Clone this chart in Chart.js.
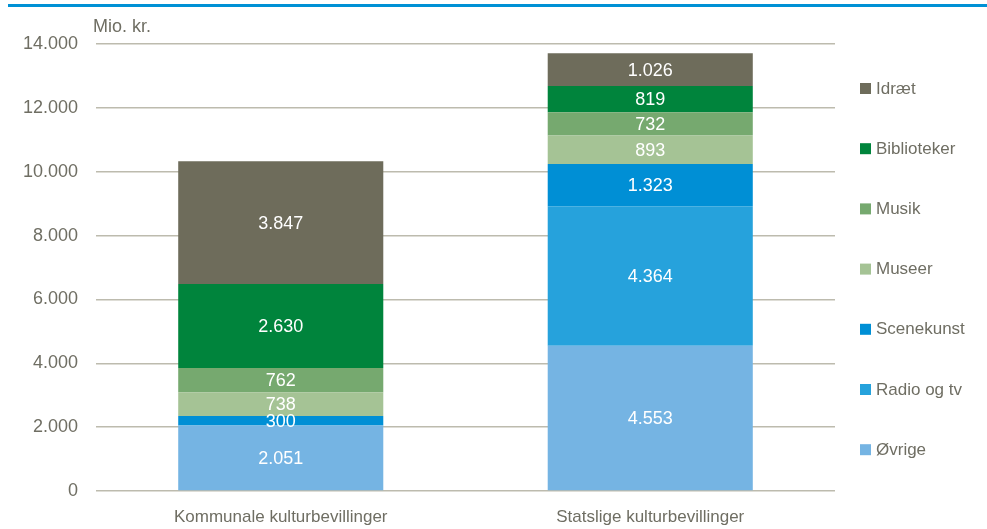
<!DOCTYPE html>
<html>
<head>
<meta charset="utf-8">
<script src="https://cdn.jsdelivr.net/npm/chart.js@4"></script>
<style>
  html, body { margin: 0; padding: 0; background: #fff; }
  #wrap { width: 987px; height: 529px; position: relative; }
</style>
</head>
<body>
<div id="wrap"><canvas id="kultur"></canvas></div>
<script>
// Kategorier og serier (mio. kr.)
const categories = ['Kommunale kulturbevillinger', 'Statslige kulturbevillinger'];
const oevrige = [2051, 4553];
const radioTv = [0, 4364];
const scenekunst = [300, 1323];
const museer = [738, 893];
const musik = [762, 732];
const biblioteker = [2630, 819];
const idraet = [3847, 1026];
const yTicks = [0, 2000, 4000, 6000, 8000, 10000, 12000, 14000];

const textColor = '#6f6e63';
const gridColor = '#bdbbae';
const fontFamily = '"Liberation Sans", Arial, sans-serif';

const fmt = v => v.toLocaleString('da-DK');

// Tal i søjlerne
const valueLabels = {
    id: 'valueLabels',
    afterDatasetsDraw(chart) {
        const ctx = chart.ctx;
        ctx.save();
        ctx.fillStyle = '#ffffff';
        ctx.font = '18px ' + fontFamily;
        ctx.textAlign = 'center';
        ctx.textBaseline = 'middle';
        chart.data.datasets.forEach((ds, i) => {
            const meta = chart.getDatasetMeta(i);
            meta.data.forEach((bar, j) => {
                const v = ds.data[j];
                if (!v) return;
                const p = bar.getProps(['x', 'y', 'base'], true);
                ctx.fillText(fmt(v), p.x, (p.y + p.base) / 2 + 1);
            });
        });
        ctx.restore();
    }
};

// Blå streg, enhed og forklaring
const decorations = {
    id: 'decorations',
    afterDraw(chart) {
        const ctx = chart.ctx;
        ctx.save();
        ctx.fillStyle = '#0091d5';
        ctx.fillRect(8, 4, chart.width - 8, 3);

        ctx.fillStyle = textColor;
        ctx.font = '18px ' + fontFamily;
        ctx.textAlign = 'left';
        ctx.textBaseline = 'middle';
        ctx.fillText('Mio. kr.', 93, 27);

        ctx.font = '17px ' + fontFamily;
        const items = chart.data.datasets.slice().reverse();
        items.forEach((ds, k) => {
            const y = 88 + k * 60.2;
            ctx.fillStyle = ds.backgroundColor;
            ctx.fillRect(860, y - 5, 11, 11);
            ctx.fillStyle = textColor;
            ctx.fillText(ds.label, 876, y + 1);
        });
        ctx.restore();
    }
};

new Chart(document.getElementById('kultur'), {
    type: 'bar',
    data: {
        labels: categories,
        datasets: [
            { label: 'Øvrige', data: oevrige, backgroundColor: '#75b4e3' },
            { label: 'Radio og tv', data: radioTv, backgroundColor: '#26a2dc' },
            { label: 'Scenekunst', data: scenekunst, backgroundColor: '#008fd5' },
            { label: 'Museer', data: museer, backgroundColor: '#a5c395' },
            { label: 'Musik', data: musik, backgroundColor: '#76a96f' },
            { label: 'Biblioteker', data: biblioteker, backgroundColor: '#00843c' },
            { label: 'Idræt', data: idraet, backgroundColor: '#6e6c5b' }
        ]
    },
    options: {
        responsive: true,
        maintainAspectRatio: false,
        animation: false,
        layout: { padding: { top: 44, right: 152, left: 0, bottom: 0 } },
        datasets: { bar: { categoryPercentage: 1, barPercentage: 0.555, borderWidth: 0 } },
        plugins: {
            legend: { display: false },
            tooltip: { enabled: false }
        },
        scales: {
            x: {
                stacked: true,
                grid: { display: false, drawTicks: false },
                border: { display: false },
                ticks: { color: textColor, font: { family: fontFamily, size: 17 }, padding: 16 },
                afterFit(scale) { scale.height = 38; }
            },
            y: {
                stacked: true,
                min: 0,
                max: 14000,
                afterBuildTicks(scale) { scale.ticks = yTicks.map(v => ({ value: v })); },
                grid: { color: gridColor, lineWidth: 1.5, drawTicks: false },
                border: { display: false },
                ticks: {
                    color: textColor,
                    font: { family: fontFamily, size: 18 },
                    padding: 18,
                    callback: v => fmt(v)
                },
                afterFit(scale) { scale.width = 96; }
            }
        }
    },
    plugins: [valueLabels, decorations]
});
</script>
</body>
</html>
